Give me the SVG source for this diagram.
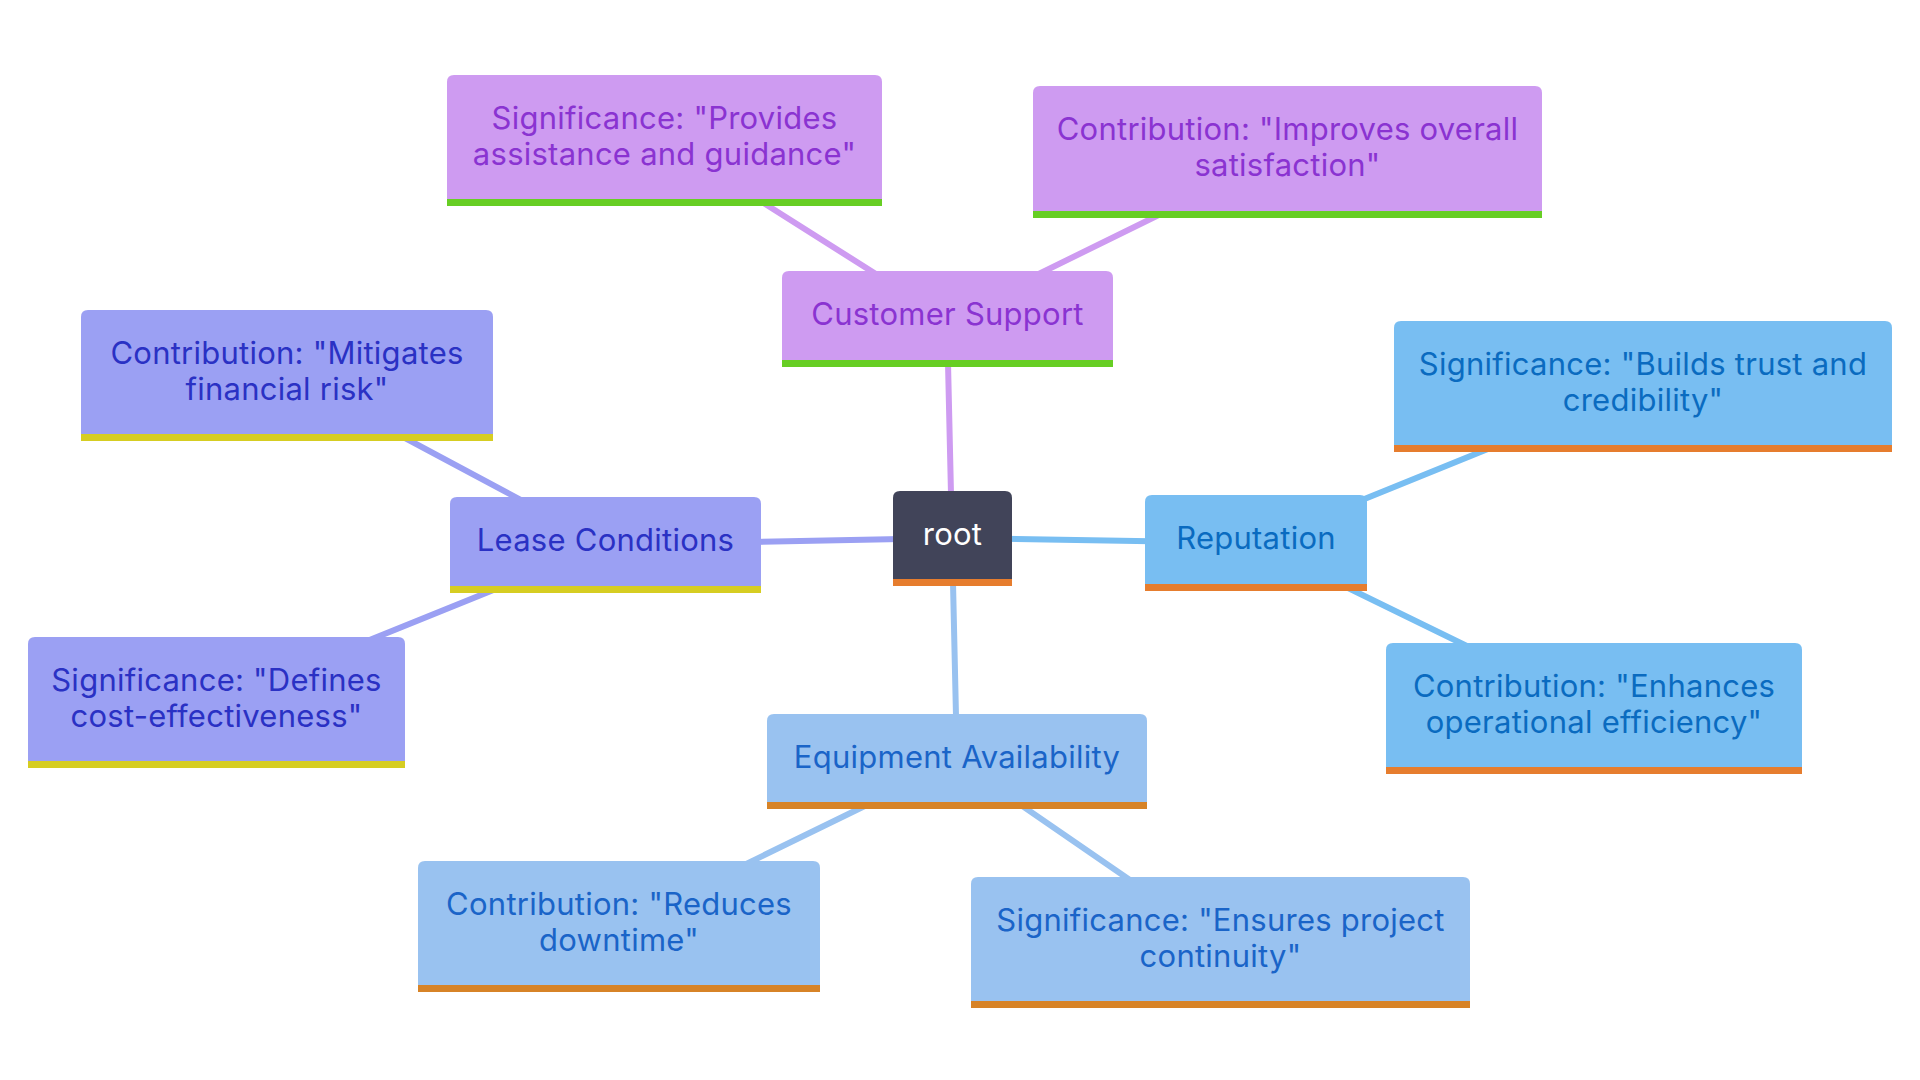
<svg xmlns="http://www.w3.org/2000/svg" width="1920" height="1080" viewBox="0 0 1920 1080">
<style>
text{font-family:Inter,"Open Sans","Liberation Sans",sans-serif;font-size:31px;letter-spacing:0.25px;text-anchor:middle}
.e{fill:none;stroke-width:6;stroke-linecap:round}
.p .b{fill:#CE9BF1}.p .bar{fill:#67CE24}.p text{fill:#8A33D1}
.l .b{fill:#9BA0F3}.l .bar{fill:#D6CD22}.l text{fill:#2A31C4}
.r .b{fill:#78BEF2}.r .bar{fill:#E67D2E}.r text{fill:#0A6BC0}
.q .b{fill:#99C2F0}.q .bar{fill:#D78327}.q text{fill:#1A64C8}
.o .b{fill:#414459}.o .bar{fill:#E67D2E}.o text{fill:#FFFFFF}
</style>
<rect width="1920" height="1080" fill="#FFFFFF"/>
<g id="connectors">
<line class="e" x1="952" y1="538" x2="947" y2="319" stroke="#CE9BF1"/>
<line class="e" x1="947" y1="319" x2="664" y2="140" stroke="#CE9BF1"/>
<line class="e" x1="947" y1="319" x2="1287" y2="152" stroke="#CE9BF1"/>
<line class="e" x1="952" y1="538" x2="605" y2="545" stroke="#9BA0F3"/>
<line class="e" x1="605" y1="545" x2="287" y2="375" stroke="#9BA0F3"/>
<line class="e" x1="605" y1="545" x2="216" y2="702" stroke="#9BA0F3"/>
<line class="e" x1="952" y1="538" x2="1256" y2="543" stroke="#78BEF2"/>
<line class="e" x1="1256" y1="543" x2="1643" y2="386" stroke="#78BEF2"/>
<line class="e" x1="1256" y1="543" x2="1594" y2="708" stroke="#78BEF2"/>
<line class="e" x1="952" y1="538" x2="957" y2="761" stroke="#99C2F0"/>
<line class="e" x1="957" y1="761" x2="619" y2="926" stroke="#99C2F0"/>
<line class="e" x1="957" y1="761" x2="1220" y2="942" stroke="#99C2F0"/>
</g>
<g id="root" class="o">
<path class="b" d="M893,586 V498 Q893,491 900,491 H1005 Q1012,491 1012,498 V586 Z"/>
<rect class="bar" x="893" y="579" width="119" height="7"/>
<text x="952.5" y="545">root</text>
</g>
<g id="customer-support" class="p">
<path class="b" d="M782,367 V278 Q782,271 789,271 H1106 Q1113,271 1113,278 V367 Z"/>
<rect class="bar" x="782" y="360" width="331" height="7"/>
<text x="947.5" y="325">Customer Support</text>
</g>
<g id="cs-significance" class="p">
<path class="b" d="M447,206 V82 Q447,75 454,75 H875 Q882,75 882,82 V206 Z"/>
<rect class="bar" x="447" y="199" width="435" height="7"/>
<text x="664.5" y="129">Significance: "Provides</text>
<text x="664.5" y="165">assistance and guidance"</text>
</g>
<g id="cs-contribution" class="p">
<path class="b" d="M1033,218 V93 Q1033,86 1040,86 H1535 Q1542,86 1542,93 V218 Z"/>
<rect class="bar" x="1033" y="211" width="509" height="7"/>
<text x="1287.5" y="140">Contribution: "Improves overall</text>
<text x="1287.5" y="176">satisfaction"</text>
</g>
<g id="lease-conditions" class="l">
<path class="b" d="M450,593 V504 Q450,497 457,497 H754 Q761,497 761,504 V593 Z"/>
<rect class="bar" x="450" y="586" width="311" height="7"/>
<text x="605.5" y="551">Lease Conditions</text>
</g>
<g id="lc-contribution" class="l">
<path class="b" d="M81,441 V317 Q81,310 88,310 H486 Q493,310 493,317 V441 Z"/>
<rect class="bar" x="81" y="434" width="412" height="7"/>
<text x="287" y="364">Contribution: "Mitigates</text>
<text x="287" y="400">financial risk"</text>
</g>
<g id="lc-significance" class="l">
<path class="b" d="M28,768 V644 Q28,637 35,637 H398 Q405,637 405,644 V768 Z"/>
<rect class="bar" x="28" y="761" width="377" height="7"/>
<text x="216.5" y="691">Significance: "Defines</text>
<text x="216.5" y="727">cost-effectiveness"</text>
</g>
<g id="reputation" class="r">
<path class="b" d="M1145,591 V502 Q1145,495 1152,495 H1360 Q1367,495 1367,502 V591 Z"/>
<rect class="bar" x="1145" y="584" width="222" height="7"/>
<text x="1256" y="549">Reputation</text>
</g>
<g id="rep-significance" class="r">
<path class="b" d="M1394,452 V328 Q1394,321 1401,321 H1885 Q1892,321 1892,328 V452 Z"/>
<rect class="bar" x="1394" y="445" width="498" height="7"/>
<text x="1643" y="375">Significance: "Builds trust and</text>
<text x="1643" y="411">credibility"</text>
</g>
<g id="rep-contribution" class="r">
<path class="b" d="M1386,774 V650 Q1386,643 1393,643 H1795 Q1802,643 1802,650 V774 Z"/>
<rect class="bar" x="1386" y="767" width="416" height="7"/>
<text x="1594" y="697">Contribution: "Enhances</text>
<text x="1594" y="733">operational efficiency"</text>
</g>
<g id="equipment-availability" class="q">
<path class="b" d="M767,809 V721 Q767,714 774,714 H1140 Q1147,714 1147,721 V809 Z"/>
<rect class="bar" x="767" y="802" width="380" height="7"/>
<text x="957" y="768">Equipment Availability</text>
</g>
<g id="ea-contribution" class="q">
<path class="b" d="M418,992 V868 Q418,861 425,861 H813 Q820,861 820,868 V992 Z"/>
<rect class="bar" x="418" y="985" width="402" height="7"/>
<text x="619" y="915">Contribution: "Reduces</text>
<text x="619" y="951">downtime"</text>
</g>
<g id="ea-significance" class="q">
<path class="b" d="M971,1008 V884 Q971,877 978,877 H1463 Q1470,877 1470,884 V1008 Z"/>
<rect class="bar" x="971" y="1001" width="499" height="7"/>
<text x="1220.5" y="931">Significance: "Ensures project</text>
<text x="1220.5" y="967">continuity"</text>
</g>
</svg>
